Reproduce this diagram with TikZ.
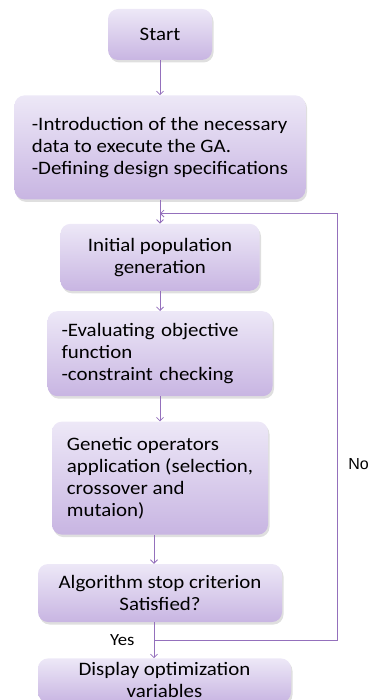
\documentclass[tikz,border=0pt]{standalone}
\usepackage{fontspec}
\setmainfont[FakeStretch=1.1]{Carlito}
\newfontfamily\arialfont{Liberation Sans}
\usetikzlibrary{arrows.meta,positioning,shadows}
\definecolor{boxtop}{RGB}{237,232,247}
\definecolor{boxbottom}{RGB}{200,181,226}
\definecolor{flowline}{RGB}{148,112,188}
\tikzset{
    %Define standard arrow tip
    >={Straight Barb[length=3.5pt,width=7pt]},
    %Define style for boxes
    gabox/.style={
             rectangle, rounded corners=10pt,
             top color=boxtop, bottom color=boxbottom,
             drop shadow={shadow xshift=1.5pt, shadow yshift=-2.5pt, opacity=0.25},
             inner sep=0pt,
             font=\fontsize{19}{22}\selectfont},
    % Define arrow style
    gaarrow/.style={
            ->,
            draw=flowline,
            line width=0.8pt},
    galabel/.style={
            font=\fontsize{17}{20}\selectfont}
}

\begin{document}
\begin{tikzpicture}[x=1pt, y=1pt]
    \useasboundingbox (0,0) rectangle (375,-700);
    \clip (0,0) rectangle (375,-700);
    \node[gabox, minimum width=104pt, minimum height=51pt] (start) at (160,-34.5) {Start};
    \node[gabox, below=35pt of start, minimum width=291pt, minimum height=104pt, align=left] (intro) {-Introduction of the necessary\\ data to execute the GA.\\ -Defining design specifications};
    \node[gabox, below=24pt of intro, minimum width=199pt, minimum height=67pt, align=center] (init) {Initial population\\ generation};
    \node[gabox, below=20pt of init, minimum width=225pt, minimum height=85pt, text width=197pt, align=left] (eval) {-Evaluating objective\\ function\\ -constraint checking};
    \node[gabox, below=25pt of eval, minimum width=216pt, minimum height=113pt, align=left] (genop) {Genetic operators\\ application (selection,\\ crossover and\\ mutaion)};
    \node[gabox, below=29pt of genop, minimum width=244pt, minimum height=58pt, align=center] (stop) {Algorithm stop criterion\\ Satisfied?};
    % last box sits on the bottom edge
    \node[gabox, below=36pt of stop, xshift=4.5pt, minimum width=253pt, minimum height=44pt, align=center] (display) {Display optimization\\ variables};
    % branch point under the test and re-entry point above the population box
    \coordinate (split) at ([xshift=-6pt, yshift=-18pt]stop.south);
    \coordinate (merge) at ([yshift=-14pt]intro.south);
    \draw[gaarrow] (start) -- (intro);
    \draw[gaarrow] (intro) -- (init);
    \draw[gaarrow] (init) -- (eval);
    \draw[gaarrow] (eval) -- (genop);
    \draw[gaarrow] (genop.south -| split) -- (stop.north -| split);
    \draw[gaarrow] (stop.south -| split) -- (display.north -| split);
    \draw[gaarrow] (split) -- ++(183,0) |- (merge);
    \node[galabel, anchor=east] (yes) at ([xshift=-16pt]split) {Yes};
    \node[galabel, font=\arialfont\fontsize{16}{19}\selectfont] (no) at (358.5,-464) {No};
\end{tikzpicture}
\end{document}
